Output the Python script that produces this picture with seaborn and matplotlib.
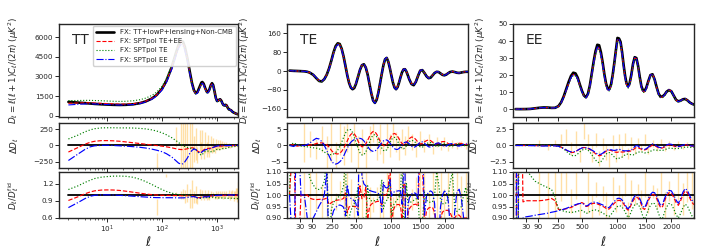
import numpy as np
import matplotlib
matplotlib.use("Agg")
import matplotlib.pyplot as plt
import seaborn as sns

# ---------------- TT (residuals read as Delta D) ----------------
tt_ell = [2, 3, 4, 5, 6, 8, 10, 13, 17, 22,
          30, 40, 50, 65, 80, 100, 120, 150, 180, 200,
          220, 240, 260, 290, 320, 350, 380, 410, 440, 480,
          520, 540, 570, 610, 650, 680, 720, 770, 810, 850,
          900, 950, 1000, 1050, 1100, 1140, 1200, 1250, 1300, 1360,
          1420, 1480, 1560, 1640, 1720, 1800, 1900, 2000, 2100, 2200,
          2300, 2400, 2500]
tt_fid = [1050, 1000, 960, 930, 900, 870, 850, 830, 820, 830,
          870, 960, 1080, 1300, 1580, 2050, 2650, 3700, 4800, 5400,
          5720, 5650, 5250, 4350, 3350, 2500, 1950, 1720, 1800, 2180,
          2530, 2570, 2450, 2100, 1830, 1800, 1960, 2330, 2480, 2340,
          1850, 1350, 1120, 1150, 1230, 1250, 1130, 950, 820, 780,
          830, 800, 620, 480, 450, 410, 300, 240, 200, 160,
          130, 110, 95]
tt_dd_red = [-100, -30, 20, 50, 65, 75, 75, 72, 65, 55,
             42, 30, 20, 8, 0, -10, -20, -35, -50, -58,
             -62, -62, -58, -50, -40, -35, -40, -60, -85, -100,
             -95, -85, -70, -55, -50, -45, -45, -40, -35, -30,
             -22, -15, -12, -12, -12, -10, -8, -6, -6, -6,
             -6, -5, -4, -3, -3, -2, -2, -1, -1, -1,
             0, 0, 0]
tt_dd_green = [100, 160, 210, 240, 258, 270, 272, 272, 270, 270,
               268, 262, 255, 240, 222, 195, 165, 120, 75, 45,
               20, 0, -15, -30, -40, -45, -50, -60, -90, -130,
               -150, -140, -110, -90, -85, -85, -90, -95, -95, -90,
               -80, -65, -60, -60, -62, -62, -58, -50, -45, -43,
               -45, -43, -35, -28, -26, -23, -18, -14, -12, -10,
               -8, -7, -6]
tt_dd_blue = [-230, -130, -60, -20, -5, 2, 3, 0, -5, -10,
              -18, -28, -38, -55, -72, -95, -125, -175, -235, -270,
              -285, -280, -250, -190, -120, -75, -55, -60, -90, -115,
              -105, -95, -80, -65, -60, -60, -55, -45, -35, -28,
              -20, -12, -8, -5, -5, -5, -3, -2, -2, -2,
              -1, -1, -1, 0, 0, 0, 0, 0, 0, 0,
              0, 0, 0]
tt_bar_ell = [80, 120, 180, 220, 240, 260, 290, 320, 350, 380,
              410, 440, 480, 520, 540, 570, 610, 650, 680, 720,
              770, 810, 850, 900, 950, 1000, 1050, 1100, 1140, 1200,
              1250, 1300, 1360, 1420, 1480, 1560, 1640, 1720, 1800, 1900,
              2000, 2100, 2200, 2300, 2400, 2500]
tt_bar_dd = [-330, 880, 130, 0, 100, -100, 150, -200, 50, -60,
             20, -150, 60, -80, 80, -120, 40, -60, 20, -90,
             30, -40, 10, -60, 20, -20, 10, -30, 20, -10,
             15, -20, 10, -10, 20, -5, 10, -15, 5, 5,
             -5, 0, 5, 0, 12, 5]
tt_bar_err = [220, 70, 150, 400, 500, 600, 700, 550, 600, 200,
              250, 120, 180, 130, 150, 90, 160, 110, 140, 80,
              120, 70, 110, 60, 80, 50, 70, 40, 60, 45,
              50, 30, 40, 35, 40, 30, 35, 25, 25, 20,
              20, 15, 15, 15, 12, 10]

# ---------------- TE (residuals read as Delta D) ----------------
te_ell = [2, 10, 20, 35, 50, 65, 80, 100, 120, 140,
          160, 180, 200, 220, 240, 260, 280, 300, 320, 340,
          360, 380, 400, 420, 440, 460, 480, 500, 525, 550,
          575, 600, 625, 650, 675, 700, 725, 750, 775, 800,
          825, 850, 875, 900, 925, 950, 975, 1000, 1025, 1050,
          1075, 1100, 1125, 1150, 1175, 1200, 1225, 1250, 1275, 1300,
          1340, 1380, 1420, 1460, 1500, 1540, 1580, 1620, 1660, 1700,
          1740, 1780, 1820, 1860, 1900, 1940, 1980, 2020, 2060, 2100,
          2150, 2200, 2250, 2300, 2350, 2400, 2450, 2500]
te_fid = [2, 1, 0.5, -0.3, -1, -3, -7, -16, -30, -42,
          -44, -34, -15, 12, 45, 80, 106, 118, 115, 95,
          62, 22, -18, -50, -70, -77, -72, -55, -25, 5,
          25, 29, 15, -15, -55, -95, -125, -135, -122, -92,
          -52, -12, 25, 50, 56, 40, 12, -20, -50, -70,
          -77, -68, -48, -25, -5, 7, 8, -2, -18, -35,
          -55, -60, -45, -20, 2, 4, -8, -22, -30, -28,
          -18, -8, -3, -4, -10, -16, -18, -15, -9, -4,
          -2, -4, -7, -8, -6, -4, -3, -3]
te_dd_red = [0, 0.3, -0.2, 0, 0, 0, 0.1, 0.3, 0.6, 0.8,
             0.8, 0.6, 0.2, -0.5, -1.5, -2.2, -2.5, -2.6, -2.4, -1.8,
             -0.9, 0.2, 1.4, 2.6, 3.4, 3.8, 3.6, 2.8, 1.4, 0.2,
             -0.4, -0.3, 0.5, 1.6, 2.8, 3.8, 4.3, 4.2, 3.5, 2.5,
             1.4, 0.5, 0.0, -0.1, 0.3, 1.1, 2.0, 2.9, 3.5, 3.7,
             3.4, 2.8, 2.0, 1.2, 0.6, 0.3, 0.4, 0.9, 1.5, 2.1,
             2.6, 2.5, 1.8, 1.0, 0.5, 0.6, 1.1, 1.5, 1.7, 1.5,
             1.0, 0.6, 0.5, 0.7, 1.0, 1.2, 1.2, 1.0, 0.6, 0.3,
             0.2, 0.4, 0.6, 0.7, 0.6, 0.4, 0.3, 0.3]
te_dd_green = [0, 0.8, 0.3, -0.2, -0.3, -0.4, -0.5, -0.7, -0.8, -1.0,
               -1.4, -2.0, -2.5, -2.8, -2.8, -2.6, -2.2, -1.4, -0.3, 1.0,
               2.5, 3.8, 4.7, 5.0, 4.8, 4.0, 2.6, 1.0, -0.8, -2.2,
               -2.9, -2.8, -2.0, -0.6, 1.0, 2.4, 3.2, 3.3, 2.7, 1.6,
               0.3, -0.8, -1.5, -1.7, -1.3, -0.4, 0.8, 1.8, 2.4, 2.5,
               2.1, 1.3, 0.4, -0.4, -0.9, -1.0, -0.7, -0.1, 0.6, 1.2,
               1.6, 1.4, 0.8, 0.1, -0.4, -0.5, -0.1, 0.5, 0.9, 0.9,
               0.5, 0.0, -0.3, -0.2, 0.2, 0.6, 0.7, 0.5, 0.1, -0.2,
               -0.2, 0.2, 0.5, 0.5, 0.3, 0.0, -0.1, 0.1]
te_dd_blue = [0, -0.3, 0.2, 0, 0, 0.3, 0.8, 1.6, 2.2, 2.0,
              1.2, 0.0, -1.5, -3.2, -4.7, -5.5, -5.7, -5.5, -5.0, -4.4,
              -3.3, -2.0, -0.8, 0.2, 1.0, 1.5, 1.8, 2.0, 2.2, 2.2,
              2.0, 1.4, 0.6, -0.3, -1.1, -1.6, -1.8, -1.7, -1.3, -0.6,
              0.2, 0.9, 1.4, 1.7, 1.7, 1.4, 0.8, 0.1, -0.5, -1.0,
              -1.2, -1.2, -0.9, -0.4, 0.2, 0.7, 1.0, 1.1, 0.9, 0.5,
              -0.2, -0.6, -0.3, 0.4, 1.0, 1.1, 0.7, 0.1, -0.4, -0.5,
              -0.2, 0.3, 0.7, 0.8, 0.5, 0.0, -0.3, -0.2, 0.2, 0.5,
              0.6, 0.3, -0.1, -0.2, 0.1, 0.4, 0.5, 0.3]
te_bar_ell = [50, 80, 120, 160, 200, 240, 280, 320, 360, 400,
              440, 480, 525, 575, 625, 675, 725, 775, 825, 875,
              925, 975, 1025, 1075, 1125, 1175, 1225, 1275, 1340, 1420,
              1500, 1580, 1660, 1740, 1820, 1900, 1980, 2060, 2150, 2250,
              2350, 2450]
te_bar_dd = [1, 0.5, -1, 2, -2, 1, -3, 2, 0, 3,
             -1, 4, -2, 1, -3, 2, 5, -1, 2, -2,
             3, 0, 4, 1, -1, 2, 0, 3, 1, -1,
             2, 0, 1.5, -0.5, 1, 0, 1, -0.5, 0.5, 0,
             0.5, 0]
te_bar_err = [6, 4, 3, 4, 5, 6, 4, 5, 6, 5,
              4, 4, 5, 4, 5, 4, 4, 3.5, 4.5, 3.5,
              4, 3.5, 3.5, 3, 3.5, 3, 3, 3, 2.5, 2.5,
              2.5, 2, 2, 2, 1.5, 1.5, 1.5, 1.2, 1.2, 1,
              1, 1]

# ---------------- EE (residuals read as ratio to fiducial) ----------------
ee_ell = [2, 5, 10, 20, 30, 50, 75, 100, 130, 160,
          190, 220, 250, 275, 300, 325, 350, 375, 400, 425,
          450, 475, 500, 525, 550, 575, 600, 625, 650, 675,
          700, 725, 750, 775, 800, 825, 850, 875, 900, 925,
          950, 975, 1000, 1025, 1050, 1075, 1100, 1125, 1150, 1175,
          1200, 1230, 1260, 1290, 1320, 1350, 1380, 1410, 1440, 1470,
          1500, 1540, 1580, 1620, 1660, 1700, 1740, 1780, 1820, 1860,
          1900, 1950, 2000, 2050, 2100, 2150, 2200, 2250, 2300, 2350,
          2400, 2450, 2500]
ee_fid = [0.04, 0.03, 0.01, 0.03, 0.05, 0.15, 0.5, 0.8, 1.0, 0.95,
          0.75, 0.8, 1.8, 4.0, 7.5, 11.8, 16, 19.5, 21.4, 21,
          18.5, 14.5, 10.8, 8, 7, 9, 14, 21, 28, 34,
          37.8, 37.5, 33.5, 27.5, 20.5, 15, 12, 11.8, 14.5, 20,
          27, 34.5, 41.8, 41.5, 39.5, 33.5, 26, 19.5, 15, 13.6,
          15, 20, 26.5, 30.5, 30, 25.5, 19, 13.5, 11, 10.8,
          12.5, 16.5, 20, 20.5, 17.5, 13, 9, 7.3, 7.5, 8.5,
          10.2, 11.2, 10.5, 8, 5.5, 4.6, 5, 5.8, 6, 5.2,
          4, 3.2, 2.7]
ee_ratio_red = [1.5, 0.3, 2.0, 0.97, 0.975, 0.975, 0.975, 0.975, 0.977, 0.98,
                0.985, 0.975, 0.937, 0.937, 0.938, 0.94, 0.943, 0.946, 0.95, 0.955,
                0.96, 0.965, 0.967, 0.962, 0.95, 0.952, 0.958, 0.962, 0.964, 0.963,
                0.961, 0.958, 0.955, 0.951, 0.947, 0.942, 0.938, 0.94, 0.948, 0.956,
                0.964, 0.97, 0.975, 0.977, 0.975, 0.97, 0.962, 0.951, 0.94, 0.934,
                0.942, 0.958, 0.974, 0.985, 0.99, 0.987, 0.976, 0.958, 0.942, 0.937,
                0.952, 0.976, 0.993, 1.002, 1.0, 0.985, 0.962, 0.945, 0.95, 0.975,
                0.995, 1.01, 1.008, 0.99, 0.968, 0.955, 0.975, 1.002, 1.018, 1.01,
                0.988, 0.968, 0.958]
ee_ratio_green = [1.75, 0.4, 1.5, 1.13, 1.12, 1.085, 1.06, 1.05, 1.04, 1.032,
                  1.024, 0.99, 0.94, 0.934, 0.93, 0.927, 0.925, 0.925, 0.925, 0.927,
                  0.93, 0.932, 0.933, 0.928, 0.92, 0.922, 0.928, 0.932, 0.935, 0.935,
                  0.933, 0.93, 0.926, 0.922, 0.917, 0.912, 0.907, 0.908, 0.915, 0.925,
                  0.935, 0.943, 0.95, 0.953, 0.952, 0.947, 0.938, 0.927, 0.913, 0.902,
                  0.91, 0.928, 0.945, 0.957, 0.962, 0.96, 0.948, 0.928, 0.905, 0.895,
                  0.91, 0.937, 0.955, 0.966, 0.962, 0.945, 0.918, 0.898, 0.9, 0.925,
                  0.947, 0.963, 0.96, 0.94, 0.915, 0.9, 0.92, 0.945, 0.96, 0.952,
                  0.93, 0.91, 0.9]
ee_ratio_blue = [0.25, 1.7, 0.0, 0.9, 0.905, 0.908, 0.912, 0.915, 0.918, 0.921,
                 0.925, 0.928, 0.932, 0.935, 0.938, 0.942, 0.946, 0.95, 0.954, 0.958,
                 0.961, 0.963, 0.964, 0.96, 0.952, 0.955, 0.962, 0.966, 0.969, 0.968,
                 0.966, 0.963, 0.96, 0.957, 0.953, 0.948, 0.944, 0.947, 0.955, 0.964,
                 0.972, 0.979, 0.985, 0.986, 0.984, 0.978, 0.969, 0.958, 0.946, 0.94,
                 0.948, 0.965, 0.982, 0.995, 1.0, 0.997, 0.985, 0.967, 0.95, 0.945,
                 0.96, 0.985, 1.002, 1.012, 1.01, 0.995, 0.972, 0.954, 0.96, 0.985,
                 1.005, 1.02, 1.018, 1.0, 0.978, 0.964, 0.985, 1.012, 1.028, 1.02,
                 0.998, 0.978, 0.968]
ee_bar_ell = [100, 160, 220, 275, 325, 375, 425, 475, 525, 575,
              625, 675, 725, 775, 825, 875, 925, 975, 1025, 1075,
              1125, 1175, 1230, 1290, 1350, 1410, 1470, 1540, 1620, 1700,
              1780, 1860, 1950, 2050, 2150, 2250, 2350, 2450]
ee_bar_dd = [0.3, -0.2, 0.4, 0.8, 1.3, -0.5, 0.9, -1.5, 2.5, 0.5,
             -1.2, 0.8, -2.0, 0.2, -1.0, -2.2, 0.6, -1.5, 0.5, -0.8,
             0.9, -1.2, 0.3, -0.6, 0.4, -0.3, 0.8, -0.6, 0.3, -0.2,
             0.5, -0.4, 0.2, -0.3, 0.3, -0.1, 0.2, 0.1]
ee_bar_err = [0.6, 0.5, 0.5, 0.9, 1.2, 1.0, 1.3, 1.0, 1.5, 1.2,
              1.3, 1.1, 1.2, 0.9, 1.2, 1.1, 1.0, 1.1, 1.3, 0.9,
              1.0, 0.8, 1.0, 0.7, 0.8, 0.6, 0.9, 0.7, 0.6, 0.6,
              0.5, 0.5, 0.5, 0.4, 0.4, 0.4, 0.35, 0.3]

model_labels = ["FX: TT+lowP+lensing+Non-CMB", "FX: SPTpol TE+EE",
                "FX: SPTpol TE", "FX: SPTpol EE"]
model_colors = ["black", "red", "green", "blue"]
model_styles = ["-", "--", ":", "-."]


def prep(ell, fid, dd=None, ratio=None):
    ell = np.asarray(ell, float)
    fid = np.asarray(fid, float)
    if dd is not None:
        dd = [np.asarray(d, float) for d in dd]
    else:
        dd = [fid * (np.asarray(r, float) - 1) for r in ratio]
    return dict(ell=ell, fid=fid, dd=dd,
                model=[fid + d for d in dd],
                ratio=[(fid + d) / fid for d in dd])


spectra = [
    ("TT", prep(tt_ell, tt_fid, dd=[tt_dd_red, tt_dd_green, tt_dd_blue]),
     (tt_bar_ell, tt_bar_dd, tt_bar_err)),
    ("TE", prep(te_ell, te_fid, dd=[te_dd_red, te_dd_green, te_dd_blue]),
     (te_bar_ell, te_bar_dd, te_bar_err)),
    ("EE", prep(ee_ell, ee_fid, ratio=[ee_ratio_red, ee_ratio_green, ee_ratio_blue]),
     (ee_bar_ell, ee_bar_dd, ee_bar_err)),
]

sns.set_style("ticks")
plt.rcParams["font.family"] = ["DejaVu Sans"]
plt.rcParams["mathtext.fontset"] = "dejavusans"
plt.rcParams["axes.linewidth"] = 1.0
plt.rcParams["axes.edgecolor"] = "0.15"

W, H = 707, 252
fig = plt.figure(figsize=(W / 100, H / 100), dpi=100)


def px_axes(x0, x1, y0, y1):
    return fig.add_axes([x0 / W, 1 - y1 / H, (x1 - x0) / W, (y1 - y0) / H])


def fwd(x):
    x = np.asarray(x, float)
    return np.sign(x) * np.abs(x) ** 0.6


def inv(y):
    y = np.asarray(y, float)
    return np.sign(y) * np.abs(y) ** (1 / 0.6)


def line(ax, x, y, i, lw, label=None):
    kw = {} if label is None else {"label": label}
    sns.lineplot(x=x, y=y, ax=ax, color=model_colors[i], linestyle=model_styles[i],
                 linewidth=lw, estimator=None, errorbar=None, sort=False, **kw)


cols = [(59, 238), (287, 468), (513, 694)]
rows = [(24, 117), (123, 168), (172, 218)]

ylims = {"TT": [(-100, 7000), (-345, 345), (0.6, 1.4)],
         "TE": [(-195, 200), (-6.9, 6.9), (0.9, 1.1)],
         "EE": [(-4.6, 50), (-3.45, 3.45), (0.9, 1.1)]}
yticks = {"TT": [[0, 1500, 3000, 4500, 6000], [-250, 0, 250], [0.6, 0.9, 1.2]],
          "TE": [[-160, -80, 0, 80, 160], [-5, 0, 5], [0.9, 0.95, 1.0, 1.05, 1.1]],
          "EE": [[0, 10, 20, 30, 40, 50], [-2.5, 0, 2.5], [0.9, 0.95, 1.0, 1.05, 1.1]]}
ylab_x = {"TT": [21, 21, 21], "TE": [252, 264, 264], "EE": [488, 481, 481]}
ylabels = [r"$D_\ell = \ell(\ell+1)C_\ell/(2\pi)\ (\mu K^2)$",
           r"$\Delta D_\ell$", r"$D_\ell/D_\ell^{\rm fid}$"]

for (name, s, bars), (x0, x1) in zip(spectra, cols):
    axes = [px_axes(x0, x1, y0, y1) for (y0, y1) in rows]
    ell = s["ell"]
    fidmap = dict(zip(ell, s["fid"]))
    bell = np.asarray(bars[0], float)
    bdd = np.asarray(bars[1], float)
    berr = np.asarray(bars[2], float)
    bfid = np.array([fidmap[v] for v in bell])

    # top: spectra
    ax = axes[0]
    line(ax, ell, s["fid"], 0, 1.9, model_labels[0] if name == "TT" else None)
    for i in range(3):
        line(ax, ell, s["model"][i], i + 1, 0.8,
             model_labels[i + 1] if name == "TT" else None)
    ax.text(0.07, 0.83, name, transform=ax.transAxes, fontsize=10,
            va="center", ha="left")
    if name == "TT":
        ax.legend(loc="upper right", fontsize=5.0, handlelength=2.6,
                  borderpad=0.45, labelspacing=0.45, handletextpad=0.9,
                  borderaxespad=0.3, framealpha=0.9, edgecolor="0.8",
                  fancybox=True)

    # middle: Delta D
    ax = axes[1]
    ax.vlines(bell, bdd - berr, bdd + berr, colors="orange", alpha=0.35,
              lw=1.0, zorder=0)
    line(ax, ell, np.zeros_like(ell), 0, 1.3)
    for i in range(3):
        line(ax, ell, s["dd"][i], i + 1, 0.85)

    # bottom: ratio
    ax = axes[2]
    ax.vlines(bell, 1 + (bdd - berr) / bfid, 1 + (bdd + berr) / bfid,
              colors="orange", alpha=0.35, lw=1.0, zorder=0)
    line(ax, ell, np.ones_like(ell), 0, 1.3)
    for i in range(3):
        line(ax, ell, s["ratio"][i], i + 1, 0.85)

    for j, ax in enumerate(axes):
        if name == "TT":
            ax.set_xscale("log")
            ax.set_xlim(1.35, 2400)
        else:
            ax.set_xscale("function", functions=(fwd, inv))
            ax.set_xlim(0, 2500)
            ax.set_xticks([30, 90, 250, 500, 1000, 1500, 2000])
        ax.set_ylim(*ylims[name][j])
        ax.set_yticks(yticks[name][j])
        ax.tick_params(which="major", labelsize=5.2, length=2.6, width=0.7,
                       pad=1.5, color="0.15")
        ax.tick_params(which="minor", length=1.5, width=0.5, color="0.15")
        ax.set_ylabel(ylabels[j], fontsize=6.3)
        ax.yaxis.set_label_coords((ylab_x[name][j] - x0) / (x1 - x0), 0.5)
        ax.set_xlabel("")
        if j < 2:
            ax.tick_params(labelbottom=False)
        else:
            ax.set_xlabel(r"$\ell$", fontsize=9)
            ax.xaxis.set_label_coords(0.5, -0.38)
        for sp in ax.spines.values():
            sp.set_linewidth(1.0)

fig.savefig("out.png", dpi=100)
